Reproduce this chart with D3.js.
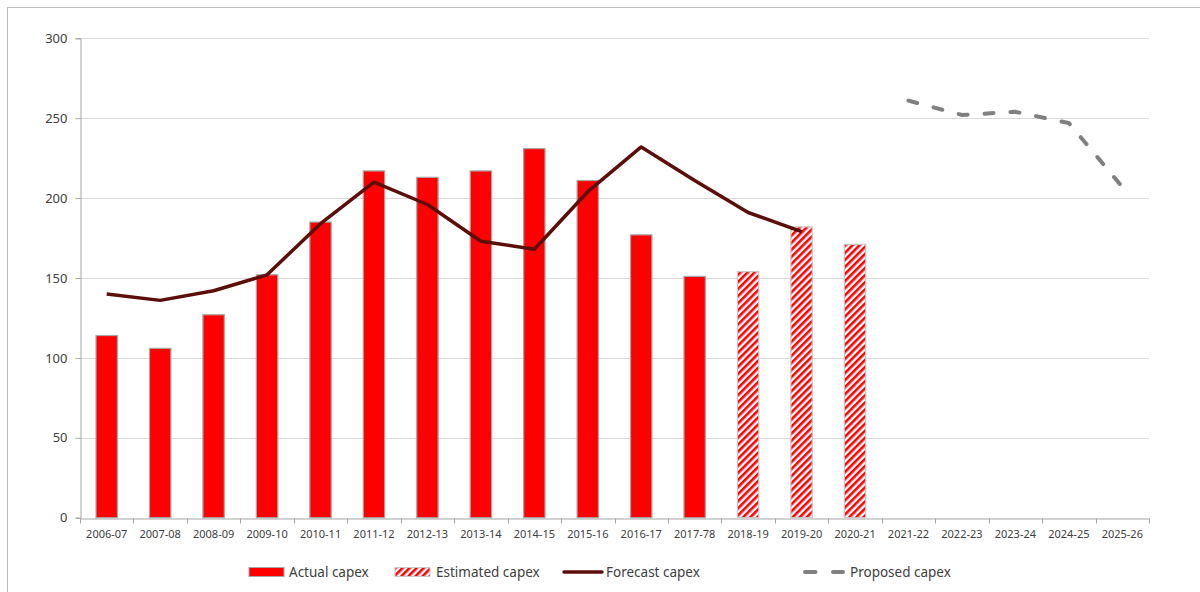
<!DOCTYPE html>
<html>
<head>
<meta charset="utf-8">
<script src="https://cdn.jsdelivr.net/npm/d3@7"></script>
<style>
  html, body { margin: 0; padding: 0; background: #fff; }
  svg { display: block; font-family: "Noto Sans", "Open Sans", sans-serif; }
</style>
</head>
<body>
<svg id="chart" width="1200" height="592"></svg>
<script>
// Financial years on the category axis
const years = ["2006-07","2007-08","2008-09","2009-10","2010-11","2011-12","2012-13","2013-14",
  "2014-15","2015-16","2016-17","2017-78","2018-19","2019-20","2020-21","2021-22","2022-23",
  "2023-24","2024-25","2025-26"];

// Actual capital expenditure (solid bars)
const actualYears = ["2006-07","2007-08","2008-09","2009-10","2010-11","2011-12","2012-13",
  "2013-14","2014-15","2015-16","2016-17","2017-78"];
const actualCapex = [114, 106, 127, 152, 185, 217, 213, 217, 231, 211, 177, 151];

// Estimated capital expenditure (hatched bars)
const estimatedYears = ["2018-19","2019-20","2020-21"];
const estimatedCapex = [154, 182, 171];

// Forecast capex (solid line)
const forecastYears = ["2006-07","2007-08","2008-09","2009-10","2010-11","2011-12","2012-13",
  "2013-14","2014-15","2015-16","2016-17","2017-78","2018-19","2019-20"];
const forecastCapex = [140, 136, 142, 152, 184, 210, 196, 173, 168, 204, 232, 211, 191, 179];

// Proposed capex (dashed line)
const proposedYears = ["2021-22","2022-23","2023-24","2024-25","2025-26"];
const proposedCapex = [261, 252, 254, 247, 207];

const yTicks = [0, 50, 100, 150, 200, 250, 300];

const svg = d3.select("#chart");

// Outer chart frame
svg.append("rect")
  .attr("x", 7.5).attr("y", 7.5)
  .attr("width", 1220).attr("height", 620)
  .attr("fill", "none").attr("stroke", "#bdbdbd").attr("stroke-width", 1);

const plot = { left: 80, right: 1149, top: 38.3, bottom: 517.7 };

const x = d3.scaleBand().domain(years).range([plot.left, plot.right]).paddingInner(0).paddingOuter(0);
const y = d3.scaleLinear().domain([0, 300]).range([plot.bottom, plot.top]);

// Hatch pattern for estimated bars
const defs = svg.append("defs");
const pat = defs.append("pattern")
  .attr("id", "hatch")
  .attr("patternUnits", "userSpaceOnUse")
  .attr("width", 5).attr("height", 5)
  .attr("patternTransform", "rotate(45)");
pat.append("rect").attr("width", 5).attr("height", 5).attr("fill", "#fff");
pat.append("rect").attr("width", 2.6).attr("height", 5).attr("fill", "#ff0000");

// Horizontal gridlines
svg.append("g")
  .selectAll("line")
  .data(yTicks.filter(d => d > 0))
  .join("line")
  .attr("x1", plot.left).attr("x2", plot.right)
  .attr("y1", d => Math.round(y(d)) + 0.5).attr("y2", d => Math.round(y(d)) + 0.5)
  .attr("stroke", "#d9d9d9").attr("stroke-width", 1);

// Y axis
const yAxis = svg.append("g")
  .attr("transform", `translate(${plot.left + 0.5},0)`)
  .call(d3.axisLeft(y).tickValues(yTicks).tickSize(5).tickPadding(8));
yAxis.select(".domain").attr("stroke", "#a6a6a6");
yAxis.selectAll(".tick line").attr("stroke", "#a6a6a6");
yAxis.selectAll(".tick text")
  .attr("font-size", 13).attr("fill", "#404040")
  .attr("font-family", "'Noto Sans', sans-serif");

// X axis
const xAxis = svg.append("g")
  .attr("transform", `translate(0,${Math.round(plot.bottom) + 0.5})`)
  .call(d3.axisBottom(x).tickSize(0).tickPadding(12));
xAxis.select(".domain").attr("stroke", "#a6a6a6");
xAxis.selectAll(".tick text")
  .attr("font-size", 11).attr("fill", "#404040")
  .attr("font-family", "'Noto Sans', sans-serif");
// Tick marks at category boundaries
xAxis.append("g")
  .selectAll("line")
  .data(years.map(d => x(d)).concat([x(years[years.length - 1]) + x.bandwidth()]))
  .join("line")
  .attr("x1", d => Math.round(d) + 0.5).attr("x2", d => Math.round(d) + 0.5)
  .attr("y1", 0).attr("y2", 5)
  .attr("stroke", "#a6a6a6");

const barW = x.bandwidth() * 0.4;
const barX = d => x(d) + (x.bandwidth() - barW) / 2;

// Actual capex bars
svg.append("g")
  .selectAll("rect")
  .data(actualYears.map((yr, i) => ({ yr, v: actualCapex[i] })))
  .join("rect")
  .attr("x", d => barX(d.yr)).attr("width", barW)
  .attr("y", d => y(d.v)).attr("height", d => y(0) - y(d.v))
  .attr("fill", "#ff0000").attr("stroke", "#a6a6a6").attr("stroke-width", 1.2);

// Estimated capex bars
svg.append("g")
  .selectAll("rect")
  .data(estimatedYears.map((yr, i) => ({ yr, v: estimatedCapex[i] })))
  .join("rect")
  .attr("x", d => barX(d.yr)).attr("width", barW)
  .attr("y", d => y(d.v)).attr("height", d => y(0) - y(d.v))
  .attr("fill", "url(#hatch)").attr("stroke", "#c8c8c8").attr("stroke-width", 1.2);

const cx = d => x(d) + x.bandwidth() / 2;

// Forecast capex line
svg.append("path")
  .datum(forecastYears.map((yr, i) => [cx(yr), y(forecastCapex[i])]))
  .attr("d", d3.line())
  .attr("fill", "none").attr("stroke", "#5c0f0a").attr("stroke-width", 3.5)
  .attr("stroke-linejoin", "round");

// Proposed capex line (dashed)
svg.append("path")
  .datum(proposedYears.map((yr, i) => [cx(yr), y(proposedCapex[i])]))
  .attr("d", d3.line())
  .attr("fill", "none").attr("stroke", "#808080").attr("stroke-width", 4)
  .attr("stroke-dasharray", "9,17").attr("stroke-linecap", "round");

// Legend
const legend = svg.append("g").attr("font-size", 13.5).attr("fill", "#404040");
const ly = 572;
const items = [
  { label: "Actual capex", sx: 249, tx: 289, type: "solid" },
  { label: "Estimated capex", sx: 395, tx: 436, type: "hatch" },
  { label: "Forecast capex", sx: 564, tx: 606, type: "line" },
  { label: "Proposed capex", sx: 803, tx: 850, type: "dash" }
];
items.forEach(it => {
  if (it.type === "solid" || it.type === "hatch") {
    legend.append("rect")
      .attr("x", it.sx).attr("y", ly - 4.5).attr("width", 35).attr("height", 9)
      .attr("fill", it.type === "solid" ? "#ff0000" : "url(#hatch)")
      .attr("stroke", it.type === "solid" ? "#a6a6a6" : "#c8c8c8").attr("stroke-width", 1);
  } else if (it.type === "line") {
    legend.append("line")
      .attr("x1", it.sx).attr("x2", it.sx + 38).attr("y1", ly).attr("y2", ly)
      .attr("stroke", "#5c0f0a").attr("stroke-width", 3.5).attr("stroke-linecap", "round");
  } else {
    legend.append("line")
      .attr("x1", it.sx + 2).attr("x2", it.sx + 40).attr("y1", ly).attr("y2", ly)
      .attr("stroke", "#808080").attr("stroke-width", 4)
      .attr("stroke-dasharray", "10.5,17.5").attr("stroke-linecap", "round");
  }
  legend.append("text")
    .attr("x", it.tx).attr("y", ly).attr("dy", "0.35em")
    .text(it.label);
});
</script>
</body>
</html>
